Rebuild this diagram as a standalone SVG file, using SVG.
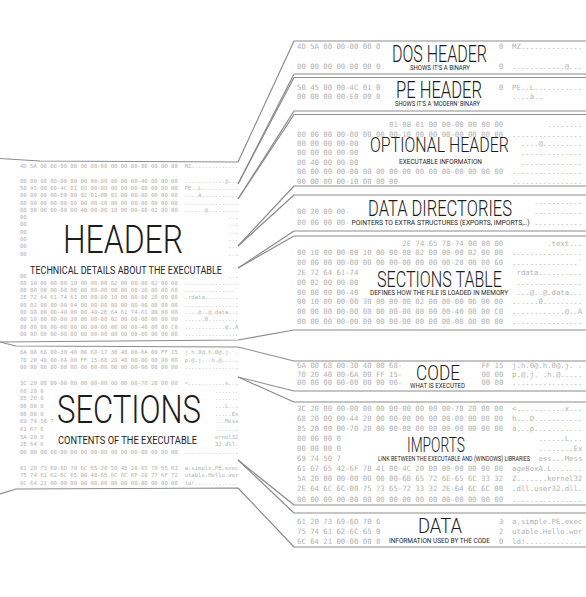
<svg xmlns="http://www.w3.org/2000/svg" width="586" height="597" viewBox="0 0 586 597">
<style>
.hx{font-family:'DejaVu Sans Mono','Liberation Mono',monospace;font-size:7.29px;fill:#b2b2b2}
.hl{font-family:'DejaVu Sans Mono','Liberation Mono',monospace;font-size:5.58px;fill:#b2b2b2}
.t{font-family:Roboto,'Open Sans','Liberation Sans',sans-serif;font-weight:300;fill:#1c1c1c}
.s{font-family:Roboto,'Open Sans','Liberation Sans',sans-serif;font-weight:400;fill:#262626}
.ln{fill:none;stroke:#8c8c8c;stroke-width:1.2;stroke-linejoin:round}
</style>
<rect width="586" height="597" fill="#ffffff"/>

<g id="connectors">
<path class="ln" d="M0,158.5 L40,161 L238,162 L294,41 L586,41"/>
<path class="ln" d="M238,184 L294,74 L586,74"/>
<path class="ln" d="M238,184 L294,77.5 L586,77.5"/>
<path class="ln" d="M238,199 L294,111 L586,111"/>
<path class="ln" d="M238,199 L294,114.5 L586,114.5"/>
<path class="ln" d="M238,246 L294,186 L586,186"/>
<path class="ln" d="M238,246 L294,195 L586,195"/>
<path class="ln" d="M238,268 L294,231 L586,231"/>
<path class="ln" d="M238,268 L294,236 L586,236"/>
<path class="ln" d="M0,342 L238,340 L294,330 L586,330"/>
<path class="ln" d="M0,342 L16,346 L238,347 L294,361 L586,361"/>
<path class="ln" d="M238,377 L294,391 L586,391"/>
<path class="ln" d="M238,377 L294,402 L586,402"/>
<path class="ln" d="M238,460 L294,505 L586,505"/>
<path class="ln" d="M238,460 L294,513 L586,513"/>
<path class="ln" d="M0,494 L16,489 L238,488 L294,547 L586,547"/>
</g>

<g id="header">
<text class="hl" x="20" y="168">4D 5A 00 00-00 00 00 00-00 00 00 00-00 00 00 00</text><text class="hl" x="184.64" y="168">MZ..............</text>
<text class="hl" x="20" y="182.6">00 00 00 00-00 00 00 00-00 00 00 00-40 00 00 00</text><text class="hl" x="184.64" y="182.6">............@...</text>
<text class="hl" x="20" y="189.9">50 45 00 00-4C 01 03 00-00 00 00 00-00 00 00 00</text><text class="hl" x="184.64" y="189.9">PE..L...........</text>
<text class="hl" x="20" y="197.2">00 00 00 00-E0 00 02 01-0B 01 00 00-00 00 00 00</text><text class="hl" x="184.64" y="197.2">....à...........</text>
<text class="hl" x="20" y="204.5">00 00 00 00-00 00 00 00-10 00 00 00-00 00 00 00</text><text class="hl" x="184.64" y="204.5">................</text>
<text class="hl" x="20" y="211.8">00 00 00 00-00 00 40 00-00 10 00 00-00 02 00 00</text><text class="hl" x="184.64" y="211.8">......@.........</text>
<text class="hl" x="20" y="219.1">00</text><text class="hl" x="228.32" y="219.1">...</text>
<text class="hl" x="20" y="226.4">00</text><text class="hl" x="228.32" y="226.4">...</text>
<text class="hl" x="20" y="233.7">00</text><text class="hl" x="228.32" y="233.7">...</text>
<text class="hl" x="20" y="241">00</text><text class="hl" x="228.32" y="241">...</text>
<text class="hl" x="20" y="248.3">00</text><text class="hl" x="228.32" y="248.3">...</text>
<text class="hl" x="20" y="255.6">00</text><text class="hl" x="228.32" y="255.6">...</text>
<text class="hl" x="20" y="277.5">00</text><text class="hl" x="228.32" y="277.5">...</text>
<text class="hl" x="20" y="284.8">00 10 00 00-00 10 00 00-00 02 00 00-00 02 00 00</text><text class="hl" x="184.64" y="284.8">................</text>
<text class="hl" x="20" y="292.1">00 00 00 00-00 00 00 00-00 00 00 00-20 00 00 60</text><text class="hl" x="184.64" y="292.1">...............`</text>
<text class="hl" x="20" y="299.4">2E 72 64 61-74 61 00 00-00 10 00 00-00 20 00 00</text><text class="hl" x="184.64" y="299.4">.rdata..........</text>
<text class="hl" x="20" y="306.7">00 02 00 00-00 04 00 00-00 00 00 00-00 00 00 00</text><text class="hl" x="184.64" y="306.7">................</text>
<text class="hl" x="20" y="314">00 00 00 00-40 00 00 40-2E 64 61 74-61 00 00 00</text><text class="hl" x="184.64" y="314">....@..@.data...</text>
<text class="hl" x="20" y="321.3">00 10 00 00-00 30 00 00-00 02 00 00-00 06 00 00</text><text class="hl" x="184.64" y="321.3">......0.........</text>
<text class="hl" x="20" y="328.6">00 00 00 00-00 00 00 00-00 00 00 00-40 00 00 C0</text><text class="hl" x="184.64" y="328.6">............@..À</text>
<text class="hl" x="20" y="335.9">00 00 00 00-00 00 00 00-00 00 00 00-00 00 00 00</text><text class="hl" x="184.64" y="335.9">................</text>
<text transform="matrix(1 0 0 1.24 0 -60.72)"><tspan class="t" x="63" y="253" font-size="31.8" textLength="120" lengthAdjust="spacingAndGlyphs">HEADER</tspan><tspan class="s" x="30" y="269.94" font-size="8.47" textLength="192" lengthAdjust="spacingAndGlyphs">TECHNICAL DETAILS ABOUT THE EXECUTABLE</tspan></text>
</g>

<g id="sections">
<text class="hl" x="20" y="354">6A 00 68 00-30 40 00 68-17 30 40 00-6A 00 FF 15</text><text class="hl" x="184.64" y="354">j.h.0@.h.0@.j. .</text>
<text class="hl" x="20" y="361.7">70 20 40 00-6A 00 FF 15-68 20 40 00-00 00 00 00</text><text class="hl" x="184.64" y="361.7">p.@.j. .h.@.....</text>
<text class="hl" x="20" y="369.4">00 00 00 00-00 00 00 00-00 00 00 00-00 00 00 00</text><text class="hl" x="184.64" y="369.4">................</text>
<text class="hl" x="20" y="384.8">3C 20 00 00-00 00 00 00-00 00 00 00-78 20 00 00</text><text class="hl" x="184.64" y="384.8">&lt;...........x...</text>
<text class="hl" x="20" y="392.5">68 20 0</text><text class="hl" x="214.88" y="392.5">.......</text>
<text class="hl" x="20" y="400.2">85 20 0</text><text class="hl" x="214.88" y="400.2">.......</text>
<text class="hl" x="20" y="407.9">00 00 0</text><text class="hl" x="214.88" y="407.9">...L...</text>
<text class="hl" x="20" y="415.6">00 00 0</text><text class="hl" x="214.88" y="415.6">.....Ex</text>
<text class="hl" x="20" y="423.3">69 74 50 7</text><text class="hl" x="214.88" y="423.3">...Mess</text>
<text class="hl" x="20" y="431">61 67 6</text><text class="hl" x="214.88" y="431">.......</text>
<text class="hl" x="20" y="438.7">5A 20 0</text><text class="hl" x="214.88" y="438.7">ernel32</text>
<text class="hl" x="20" y="446.4">2E 64 6</text><text class="hl" x="214.88" y="446.4">32.dll.</text>
<text class="hl" x="20" y="454.1">00 00 00 00-00 00 00 00-00 00 00 00-00 00 00 00</text><text class="hl" x="184.64" y="454.1">................</text>
<text class="hl" x="20" y="469.5">61 20 73 69-6D 70 6C 65-20 50 45 20-65 78 65 63</text><text class="hl" x="184.64" y="469.5">a.simple.PE.exec</text>
<text class="hl" x="20" y="477.2">75 74 61 62-6C 65 00 48-65 6C 6C 6F-20 77 6F 72</text><text class="hl" x="184.64" y="477.2">utable.Hello.wor</text>
<text class="hl" x="20" y="484.9">6C 64 21 00-00 00 00 00-00 00 00 00-00 00 00 00</text><text class="hl" x="184.64" y="484.9">ld!.............</text>
<text transform="matrix(1 0 0 1.28 0 -118.44)"><tspan class="t" x="57" y="423" font-size="30.8" textLength="144" lengthAdjust="spacingAndGlyphs">SECTIONS</tspan><tspan class="s" x="58" y="439.41" font-size="8.2" textLength="139" lengthAdjust="spacingAndGlyphs">CONTENTS OF THE EXECUTABLE</tspan></text>
</g>

<g id="dos-header">
<text class="hx" x="297" y="49.1">4D 5A 00 00-00 00 0</text><text class="hx" x="498.94" y="49.1">0</text><text class="hx" x="512.11" y="49.1">MZ..............</text>
<text class="hx" x="297" y="68.6">00 00 00 00-00 00 0</text><text class="hx" x="498.94" y="68.6">0</text><text class="hx" x="512.11" y="68.6">............@...</text>
<text transform="matrix(1 0 0 1.51 0 -31.62)"><tspan class="t" x="392" y="62" font-size="15.9" textLength="95" lengthAdjust="spacingAndGlyphs">DOS HEADER</tspan><tspan class="s" x="410" y="67.3" font-size="4.37" textLength="60" lengthAdjust="spacingAndGlyphs">SHOWS IT'S A BINARY</tspan></text>
</g>

<g id="pe-header">
<text class="hx" x="297" y="90.1">50 45 00 00-4C 01 0</text><text class="hx" x="498.94" y="90.1">0</text><text class="hx" x="512.11" y="90.1">PE..L...........</text>
<text class="hx" x="297" y="98.6">00 00 00 00-E0 00 0</text><text class="hx" x="512.11" y="98.6">....à..</text>
<text transform="matrix(1 0 0 1.46 0 -45.08)"><tspan class="t" x="396" y="98" font-size="16.5" textLength="86" lengthAdjust="spacingAndGlyphs">PE HEADER</tspan><tspan class="s" x="395" y="103.48" font-size="4.52" textLength="85" lengthAdjust="spacingAndGlyphs">SHOWS IT'S A 'MODERN' BINARY</tspan></text>
</g>

<g id="optional-header">
<text class="hx" x="389.19" y="127.1">01-0B 01 00 00-00 00 00 00</text><text class="hx" x="547.23" y="127.1">........</text>
<text class="hx" x="297" y="136.5">00 00 00 00-00 00 00 00-10 00 00 00-00 00 00 00</text><text class="hx" x="512.11" y="136.5">................</text>
<text class="hx" x="297" y="145.9">00 00 00 00-00</text><text class="hx" x="520.89" y="145.9">....@.........</text>
<text class="hx" x="297" y="155.3">00 00 00 00-00</text><text class="hx" x="520.89" y="155.3">..............</text>
<text class="hx" x="297" y="164.7">00 40 00 00-00</text><text class="hx" x="520.89" y="164.7">..............</text>
<text class="hx" x="297" y="174.1">00 00 00 00-00 00 00 00-00 00 00 00-00 00 00 00</text><text class="hx" x="512.11" y="174.1">................</text>
<text class="hx" x="297" y="183.5">00 00 00 00-10 00 00 00</text><text class="hx" x="512.11" y="183.5">................</text>
<text transform="matrix(1 0 0 1.335 0 -50.92)"><tspan class="t" x="370" y="152" font-size="15.8" textLength="139" lengthAdjust="spacingAndGlyphs">OPTIONAL HEADER</tspan><tspan class="s" x="399" y="160.99" font-size="4.94" textLength="83" lengthAdjust="spacingAndGlyphs">EXECUTABLE INFORMATION</tspan></text>
</g>

<g id="data-directories">
<text class="hx" x="534.06" y="203.6">...........</text>
<text class="hx" x="297" y="214.1">00 20 00 00-</text><text class="hx" x="534.06" y="214.1">...........</text>
<text class="hx" x="297" y="224.6">00 00 00 00-</text><text class="hx" x="534.06" y="224.6">...........</text>
<text transform="matrix(1 0 0 1.39 0 -84.24)"><tspan class="t" x="368" y="216" font-size="16.2" textLength="144" lengthAdjust="spacingAndGlyphs">DATA DIRECTORIES</tspan><tspan class="s" x="351.5" y="222.47" font-size="4.75" textLength="178" lengthAdjust="spacingAndGlyphs">POINTERS TO EXTRA STRUCTURES (EXPORTS, IMPORTS,..)</tspan></text>
</g>

<g id="sections-table">
<text class="hx" x="402.36" y="245.6">2E 74 65 78-74 00 00 00</text><text class="hx" x="547.23" y="245.6">.text...</text>
<text class="hx" x="297" y="255.4">00 10 00 00-00 10 00 00-00 02 00 00-00 02 00 00</text><text class="hx" x="512.11" y="255.4">................</text>
<text class="hx" x="297" y="265.2">00 00 00 00-00 00 00 00-00 00 00 00-20 00 00 60</text><text class="hx" x="512.11" y="265.2">...............`</text>
<text class="hx" x="297" y="275">2E 72 64 61-74</text><text class="hx" x="516.5" y="275">rdata..........</text>
<text class="hx" x="297" y="284.8">00 02 00 00-00</text><text class="hx" x="516.5" y="284.8">...............</text>
<text class="hx" x="297" y="294.6">00 00 00 00-40</text><text class="hx" x="516.5" y="294.6">...@..@.data...</text>
<text class="hx" x="297" y="304.4">00 10 00 00-00 30 00 00-00 02 00 00-00 06 00 00</text><text class="hx" x="512.11" y="304.4">......0.........</text>
<text class="hx" x="297" y="314.2">00 00 00 00-00 00 00 00-00 00 00 00-40 00 00 C0</text><text class="hx" x="512.11" y="314.2">............@..À</text>
<text class="hx" x="297" y="324">00 00 00 00-00 00 00 00-00 00 00 00-00 00 00 00</text><text class="hx" x="512.11" y="324">................</text>
<text transform="matrix(1 0 0 1.39 0 -111.93)"><tspan class="t" x="377" y="287" font-size="15.8" textLength="125" lengthAdjust="spacingAndGlyphs">SECTIONS TABLE</tspan><tspan class="s" x="370" y="292.76" font-size="4.75" textLength="138" lengthAdjust="spacingAndGlyphs">DEFINES HOW THE FILE IS LOADED IN MEMORY</tspan></text>
</g>

<g id="code">
<text class="hx" x="297" y="368.1">6A 00 68 00-30 40 00 68-</text><text class="hx" x="481.38" y="368.1">FF 15</text><text class="hx" x="512.11" y="368.1">j.h.0@.h.0@.j. .</text>
<text class="hx" x="297" y="376.6">70 20 40 00-6A 00 FF 15-</text><text class="hx" x="481.38" y="376.6">00 00</text><text class="hx" x="512.11" y="376.6">p.@.j. .h.@.....</text>
<text class="hx" x="297" y="385.1">00 00 00 00-00 00 00 00-</text><text class="hx" x="481.38" y="385.1">00 00</text><text class="hx" x="512.11" y="385.1">................</text>
<text transform="matrix(1 0 0 1.23 0 -87.4)"><tspan class="t" x="416" y="380" font-size="17.1" textLength="44" lengthAdjust="spacingAndGlyphs">CODE</tspan><tspan class="s" x="410" y="386.5" font-size="5.37" textLength="55" lengthAdjust="spacingAndGlyphs">WHAT IS EXECUTED</tspan></text>
</g>

<g id="imports">
<text class="hx" x="297" y="410.6">3C 20 00 00-00 00 00 00-00 00 00 00-78 20 00 00</text><text class="hx" x="512.11" y="410.6">&lt;...........x...</text>
<text class="hx" x="297" y="420.7">68 20 00 00-44 20 00 00-00 00 00 00-00 00 00 00</text><text class="hx" x="512.11" y="420.7">h...D...........</text>
<text class="hx" x="297" y="430.8">85 20 00 00-70 20 00 00-00 00 00 00-00 00 00 00</text><text class="hx" x="512.11" y="430.8">à...p...........</text>
<text class="hx" x="297" y="440.9">00 00 00 0</text><text class="hx" x="538.45" y="440.9">......L...</text>
<text class="hx" x="297" y="451">00 00 00 0</text><text class="hx" x="538.45" y="451">........Ex</text>
<text class="hx" x="297" y="461.1">69 74 50 7</text><text class="hx" x="538.45" y="461.1">ess...Mess</text>
<text class="hx" x="297" y="471.2">61 67 65 42-6F 78 41 00-4C 20 00 00-00 00 00 00</text><text class="hx" x="512.11" y="471.2">ageBoxA.L.......</text>
<text class="hx" x="297" y="481.3">5A 20 00 00-00 00 00 00-6B 65 72 6E-65 6C 33 32</text><text class="hx" x="512.11" y="481.3">Z.......kernel32</text>
<text class="hx" x="297" y="491.4">2E 64 6C 6C-00 75 73 65-72 33 32 2E-64 6C 6C 00</text><text class="hx" x="512.11" y="491.4">.dll.user32.dll.</text>
<text class="hx" x="297" y="501.5">00 00 00 00-00 00 00 00-00 00 00 00-00 00 00 00</text><text class="hx" x="512.11" y="501.5">................</text>
<text transform="matrix(1 0 0 1.54 0 -244.08)"><tspan class="t" x="407" y="452" font-size="13.6" textLength="58" lengthAdjust="spacingAndGlyphs">IMPORTS</tspan><tspan class="s" x="378" y="457.84" font-size="4.29" textLength="152" lengthAdjust="spacingAndGlyphs">LINK BETWEEN THE EXECUTABLE AND (WINDOWS) LIBRARIES</tspan></text>
</g>

<g id="data">
<text class="hx" x="297" y="524.1">61 20 73 69-6D 70 6</text><text class="hx" x="498.94" y="524.1">3</text><text class="hx" x="512.11" y="524.1">a.simple.PE.exec</text>
<text class="hx" x="297" y="534.1">75 74 61 62-6C 65 0</text><text class="hx" x="498.94" y="534.1">2</text><text class="hx" x="512.11" y="534.1">utable.Hello.wor</text>
<text class="hx" x="297" y="544.1">6C 64 21 00-00 00 0</text><text class="hx" x="498.94" y="544.1">0</text><text class="hx" x="512.11" y="544.1">ld!.............</text>
<text transform="matrix(1 0 0 1.22 0 -117.26)"><tspan class="t" x="418" y="533" font-size="17.2" textLength="44" lengthAdjust="spacingAndGlyphs">DATA</tspan><tspan class="s" x="389" y="541.2" font-size="5.41" textLength="101" lengthAdjust="spacingAndGlyphs">INFORMATION USED BY THE CODE</tspan></text>
</g>
</svg>
